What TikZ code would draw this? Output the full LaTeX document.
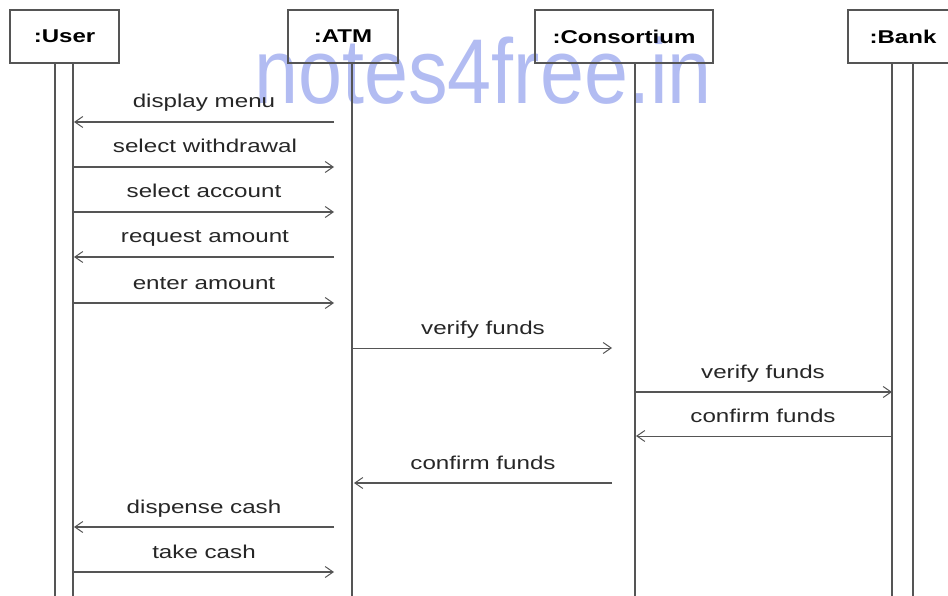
\documentclass[tikz,border=0pt]{standalone}
\usepackage{fontspec}
\setmainfont{Liberation Sans}
\usetikzlibrary{arrows.meta}
\newcommand\widetext[1]{\scalebox{1.3}[1]{#1}}
\definecolor{wm}{RGB}{178,188,242}
\definecolor{ln}{RGB}{85,85,85}
\tikzset{
  obj/.style={draw=ln,line width=1.3pt,minimum height=53pt,inner sep=0pt,
     font=\fontsize{18.5}{20}\selectfont\bfseries},
  life/.style={draw=ln,line width=1.3pt},
  msg/.style={draw=ln,line width=1.1pt,-{Straight Barb[length=8pt,width=11pt,line width=1pt]}},
  lbl/.style={anchor=base,inner sep=0pt,font=\fontsize{18.6}{20}\selectfont,text=black!85}
}
\begin{document}
\begin{tikzpicture}[x=1pt,y=-1pt]
\useasboundingbox (0,0) rectangle (948,596);
\clip (0,0) rectangle (948,596);
% watermark
\node[anchor=base,inner sep=0pt,text=wm,font=\fontsize{92}{92}\selectfont] (wmk) at (483,104) {\scalebox{0.86}[1]{notes4free.in}};
% objects
\node[obj,minimum width=109pt] (user) at (64.5,36.5) {\widetext{:User}};
\node[obj,minimum width=110pt] (atm) at (343,36.5) {\widetext{:ATM}};
\node[obj,minimum width=178pt] (cons) at (624,36.5) {\widetext{:Consortium}};
\node[obj,minimum width=110pt] (bank) at (903,36.5) {\widetext{:Bank}};
% lifelines
\coordinate (uL0) at (55,63); \coordinate (uL1) at (55,600);
\coordinate (uR0) at (73,63); \coordinate (uR1) at (73,600);
\coordinate (aT0) at (352,63); \coordinate (aT1) at (352,600);
\coordinate (cT0) at (635,63); \coordinate (cT1) at (635,600);
\coordinate (bL0) at (892,63); \coordinate (bL1) at (892,600);
\coordinate (bR0) at (913,63); \coordinate (bR1) at (913,600);
\draw[life] (uL0) -- (uL1);
\draw[life] (uR0) -- (uR1);
\draw[life] (aT0) -- (aT1);
\draw[life] (cT0) -- (cT1);
\draw[life] (bL0) -- (bL1);
\draw[life] (bR0) -- (bR1);
% message endpoints
\foreach \n/\y in {1/122,2/167,3/212,4/257,5/303,10/527,11/572}{
  \coordinate (u\n) at (74,\y);
  \coordinate (a\n) at (334,\y);
}
\coordinate (p6) at (352,348); \coordinate (q6) at (612,348);
\coordinate (p7) at (635,392); \coordinate (q7) at (892,392);
\coordinate (p8) at (892,436); \coordinate (q8) at (636,436);
\coordinate (p9) at (612,483); \coordinate (q9) at (354,483);
% messages
\draw[msg] (a1) -- (u1);
\node[lbl] (t1) at (204,108) {\widetext{display menu}};
\draw[msg] (u2) -- (a2);
\node[lbl] (t2) at (205,153) {\widetext{select withdrawal}};
\draw[msg] (u3) -- (a3);
\node[lbl] (t3) at (204,198) {\widetext{select account}};
\draw[msg] (a4) -- (u4);
\node[lbl] (t4) at (205,243) {\widetext{request amount}};
\draw[msg] (u5) -- (a5);
\node[lbl] (t5) at (204,289) {\widetext{enter amount}};
\draw[msg,line width=0.8pt] (p6) -- (q6);
\node[lbl] (t6) at (483,334) {\widetext{verify funds}};
\draw[msg] (p7) -- (q7);
\node[lbl] (t7) at (763,378) {\widetext{verify funds}};
\draw[msg,line width=0.8pt] (p8) -- (q8);
\node[lbl] (t8) at (763,422) {\widetext{confirm funds}};
\draw[msg] (p9) -- (q9);
\node[lbl] (t9) at (483,469) {\widetext{confirm funds}};
\draw[msg] (a10) -- (u10);
\node[lbl] (t10) at (204,513) {\widetext{dispense cash}};
\draw[msg] (u11) -- (a11);
\node[lbl] (t11) at (204,558) {\widetext{take cash}};
\end{tikzpicture}
\end{document}
